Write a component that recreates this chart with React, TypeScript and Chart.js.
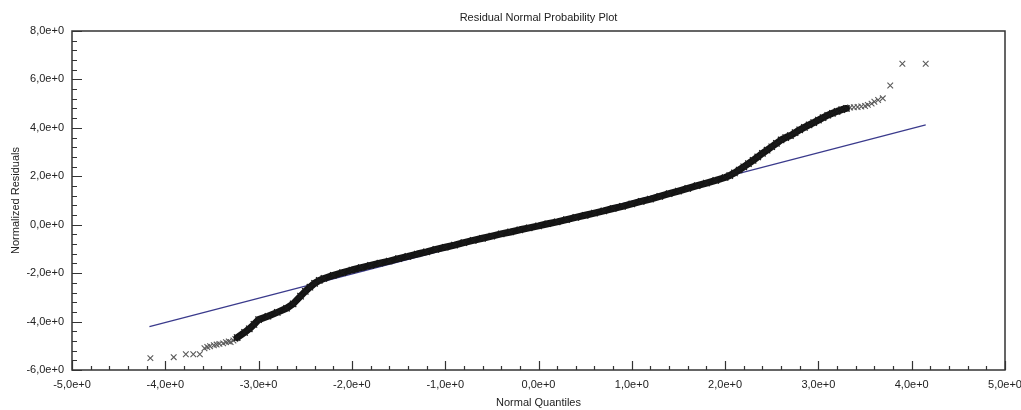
import React, { useEffect, useRef } from "react";
import { Chart, registerables } from "chart.js";

Chart.register(...registerables);

// ---- Data ----
// Dense central band of residuals (normal quantile, normalized residual)
const coreQ = [
  -3.23, -3.15, -3.1, -3.05, -3.0, -2.9, -2.8, -2.7, -2.63, -2.55, -2.5, -2.45, -2.4, -2.35, -2.3,
  -2.2, -2.1, -2.0, -1.9, -1.8, -1.7, -1.6, -1.5, -1.4, -1.3, -1.2, -1.1, -1.0, -0.9, -0.8, -0.7,
  -0.6, -0.5, -0.4, -0.3, -0.2, -0.1, 0.0, 0.1, 0.2, 0.3, 0.4, 0.5, 0.6, 0.7, 0.8, 0.9, 1.0, 1.1,
  1.2, 1.3, 1.4, 1.5, 1.6, 1.7, 1.8, 1.9, 2.0, 2.05, 2.1, 2.15, 2.2, 2.25, 2.3, 2.35, 2.4, 2.45,
  2.5, 2.55, 2.6, 2.65, 2.7, 2.75, 2.8, 2.85, 2.9, 2.95, 3.0, 3.05, 3.1, 3.15, 3.2, 3.25, 3.3,
];
const coreR = [
  -4.66, -4.45, -4.3, -4.12, -3.92, -3.78, -3.62, -3.45, -3.27, -2.95, -2.75, -2.58, -2.42, -2.3,
  -2.22, -2.09, -1.98, -1.87, -1.77, -1.68, -1.59, -1.5, -1.4, -1.31, -1.21, -1.12, -1.02, -0.93,
  -0.84, -0.74, -0.65, -0.56, -0.47, -0.38, -0.3, -0.21, -0.13, -0.05, 0.04, 0.12, 0.21, 0.3,
  0.39, 0.48, 0.57, 0.67, 0.76, 0.86, 0.96, 1.06, 1.17, 1.28, 1.39, 1.5, 1.61, 1.72, 1.83, 1.95,
  2.03, 2.14, 2.26, 2.39, 2.52, 2.66, 2.8, 2.95, 3.08, 3.22, 3.36, 3.5, 3.6, 3.68, 3.8, 3.92, 4.02,
  4.12, 4.22, 4.32, 4.42, 4.52, 4.6, 4.68, 4.75, 4.8,
];

// Sparse tail residuals
const tailQ = [
  -4.16, -3.91, -3.78, -3.7, -3.63, -3.58, -3.55, -3.52, -3.48, -3.45, -3.42, -3.38, -3.35, -3.32,
  -3.3, -3.27, -3.25, 3.3, 3.34, 3.38, 3.42, 3.46, 3.5, 3.53, 3.57, 3.6, 3.64, 3.69, 3.77, 3.9, 4.15,
];
const tailR = [
  -5.51, -5.47, -5.35, -5.35, -5.35, -5.1, -5.05, -5.02, -4.98, -4.95, -4.92, -4.9, -4.85, -4.82,
  -4.85, -4.78, -4.72, 4.82, 4.84, 4.85, 4.86, 4.88, 4.9, 4.95, 5.0, 5.08, 5.15, 5.22, 5.75, 6.65,
  6.65,
];

// Reference (fitted) line end points
const refLineQ = [-4.17, 4.15];
const refLineR = [-4.21, 4.12];

// Axis ticks and labels
const xTicks = [-5, -4, -3, -2, -1, 0, 1, 2, 3, 4, 5];
const xTickLabels = [
  "-5,0e+0", "-4,0e+0", "-3,0e+0", "-2,0e+0", "-1,0e+0", "0,0e+0",
  "1,0e+0", "2,0e+0", "3,0e+0", "4,0e+0", "5,0e+0",
];
const yTicks = [-6, -4, -2, 0, 2, 4, 6, 8];
const yTickLabels = ["-6,0e+0", "-4,0e+0", "-2,0e+0", "0,0e+0", "2,0e+0", "4,0e+0", "6,0e+0", "8,0e+0"];

const zip = (a: number[], b: number[]) => a.map((x, i) => ({ x, y: b[i] }));

const FONT = "'Liberation Sans', Arial, sans-serif";

const framePlugin = {
  id: "frameAndTicks",
  afterDatasetsDraw(chart: any) {
    const { ctx, chartArea } = chart;
    const xs = chart.scales.x;
    const ys = chart.scales.y;
    ctx.save();
    ctx.strokeStyle = "#333";
    ctx.lineWidth = 1.5;
    ctx.strokeRect(chartArea.left, chartArea.top, chartArea.right - chartArea.left, chartArea.bottom - chartArea.top);
    ctx.lineWidth = 1.2;
    ctx.beginPath();
    for (let i = 0; i <= 50; i++) {
      const v = xs.min + i * 0.2;
      const px = Math.round(xs.getPixelForValue(v)) + 0.5;
      const len = i % 5 === 0 ? 9 : 4;
      ctx.moveTo(px, chartArea.bottom);
      ctx.lineTo(px, chartArea.bottom - len);
    }
    for (let i = 0; i <= 35; i++) {
      const v = ys.min + i * 0.4;
      const py = Math.round(ys.getPixelForValue(v)) + 0.5;
      const len = i % 5 === 0 ? 10 : 5;
      ctx.moveTo(chartArea.left, py);
      ctx.lineTo(chartArea.left + len, py);
    }
    ctx.stroke();
    ctx.restore();
  },
};

export default function App() {
  const ref = useRef<HTMLCanvasElement | null>(null);

  useEffect(() => {
    document.body.style.margin = "0";
    const canvas = ref.current;
    if (!canvas) return;
    const chart = new Chart(canvas, {
      type: "scatter",
      data: {
        datasets: [
          {
            label: "Reference line",
            data: zip(refLineQ, refLineR),
            showLine: true,
            borderColor: "#3a3a8c",
            borderWidth: 1.2,
            pointRadius: 0,
            order: 3,
          },
          {
            label: "Residuals",
            data: zip(coreQ, coreR),
            showLine: true,
            borderColor: "#141414",
            borderWidth: 7,
            borderJoinStyle: "round",
            borderCapStyle: "round",
            pointStyle: "crossRot",
            pointRadius: 4.5,
            pointBorderColor: "#1a1a1a",
            pointBorderWidth: 1.2,
            order: 1,
          },
          {
            label: "Tail residuals",
            data: zip(tailQ, tailR),
            showLine: false,
            pointStyle: "crossRot",
            pointRadius: 4,
            pointBorderColor: "#5a5a5a",
            pointBorderWidth: 1.1,
            order: 2,
          },
        ],
      },
      options: {
        responsive: false,
        animation: false,
        layout: { padding: { left: 0, right: 16, top: 0, bottom: 0 } },
        plugins: {
          legend: { display: false },
          tooltip: { enabled: false },
          title: {
            display: true,
            text: "Residual Normal Probability Plot",
            color: "#222",
            font: { family: FONT, size: 11, weight: "normal" },
            padding: { top: 11, bottom: 6.8 },
            fullSize: false,
          },
        },
        scales: {
          x: {
            type: "linear",
            min: -5,
            max: 5,
            grid: { display: false, drawTicks: false },
            border: { display: false },
            afterBuildTicks: (s: any) => {
              s.ticks = xTicks.map((v) => ({ value: v }));
            },
            afterFit: (s: any) => {
              s.height = 40;
              s.paddingLeft = 0;
              s.paddingRight = 0;
            },
            ticks: {
              autoSkip: false,
              maxRotation: 0,
              padding: 8,
              color: "#222",
              font: { family: FONT, size: 11 },
              callback: (v: any) => xTickLabels[xTicks.indexOf(Number(v))],
            },
            title: {
              display: true,
              text: "Normal Quantiles",
              color: "#222",
              font: { family: FONT, size: 11 },
              padding: { top: 0, bottom: 0 },
            },
          },
          y: {
            type: "linear",
            min: -6,
            max: 8,
            grid: { display: false, drawTicks: false },
            border: { display: false },
            afterBuildTicks: (s: any) => {
              s.ticks = yTicks.map((v) => ({ value: v }));
            },
            afterFit: (s: any) => {
              s.width = 72;
              s.paddingTop = 0;
              s.paddingBottom = 0;
            },
            ticks: {
              autoSkip: false,
              padding: 8,
              color: "#222",
              font: { family: FONT, size: 11 },
              callback: (v: any) => yTickLabels[yTicks.indexOf(Number(v))],
            },
            title: {
              display: true,
              text: "Normalized Residuals",
              color: "#222",
              font: { family: FONT, size: 11 },
              padding: { top: 9.5, bottom: 0 },
            },
          },
        },
      },
      plugins: [framePlugin],
    } as any);
    return () => chart.destroy();
  }, []);

  return (
    <div style={{ width: 1021, height: 410, background: "#fff" }}>
      <canvas ref={ref} width={1021} height={410} style={{ display: "block" }} />
    </div>
  );
}
